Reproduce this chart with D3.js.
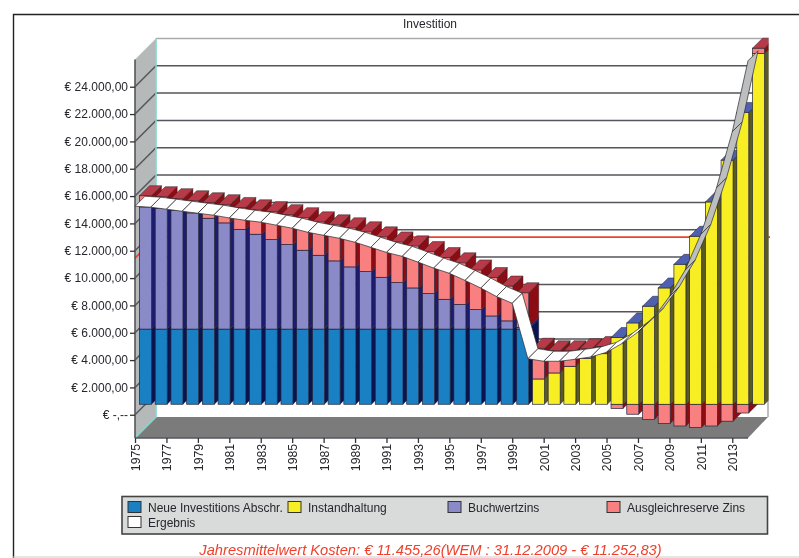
<!DOCTYPE html>
<html>
<head>
<meta charset="utf-8">
<script src="https://d3js.org/d3.v7.min.js"></script>
<style>
    html, body { margin: 0; padding: 0; background: #fff; }
    svg { display: block; filter: blur(0.55px); }
    text { font-family: "Liberation Sans", Arial, sans-serif; fill: #26262c; }
</style>
</head>
<body>
<div id="chart"></div>
<script>
// values
const years = d3.range(1975, 2015).map(String);
const yearTicks = years.filter((d, i) => i % 2 === 0);

const investVals = [5500,5500,5500,5500,5500,5500,5500,5500,5500,5500,5500,5500,5500,5500,5500,5500,5500,5500,5500,5500,5500,5500,5500,5500,5500,
    0,0,0,0,0,0,0,0,0,0,0,0,0,0,0];
const repairVals = [0,0,0,0,0,0,0,0,0,0,0,0,0,0,0,0,0,0,0,0,0,0,0,0,0,
    1850,2290,2780,3340,3700,4880,5950,7170,8510,10240,12290,14800,17860,21350,25660];
const bookVals = [8940,8840,8700,8500,8110,7770,7300,6940,6550,6190,5770,5400,4990,4550,4210,3790,3400,3010,2600,2180,1800,1430,960,600,130,
    0,0,0,0,0,0,0,0,0,0,0,0,0,0,0];
const reserveVals = [820,845,840,890,1135,1330,1600,1790,2040,2180,2380,2450,2640,2860,2910,2960,2980,3080,3070,3050,3050,2900,2810,2550,2530,
    2250,1625,1135,720,530,-310,-730,-1120,-1410,-1590,-1700,-1590,-1240,-640,390];
const resultVals = [15258,15185,15040,14890,14745,14600,14400,14230,14090,13870,13650,13350,13130,12910,12620,12250,11880,11590,11170,10730,10350,9830,9270,8650,8160,
    4100,3915,3915,4060,4230,4570,5220,6050,7100,8650,10590,13210,16620,20710,25900];

const avgCost = 11455.26;
const yTicks = [0,2000,4000,6000,8000,10000,12000,14000,16000,18000,20000,22000,24000];
const yTickLabels = ["€ -,--","€ 2.000,00","€ 4.000,00","€ 6.000,00","€ 8.000,00","€ 10.000,00","€ 12.000,00","€ 14.000,00","€ 16.000,00","€ 18.000,00","€ 20.000,00","€ 22.000,00","€ 24.000,00"];

const seriesNames = ["Neue Investitions Abschr.","Instandhaltung","Buchwertzins","Ausgleichreserve Zins","Ergebnis"];
const seriesColors = ["#1a80c4","#f8ee24","#8a8ac8","#f88080","#ffffff"];
const sideColors = ["#0a1450","#5a5a22","#1c1c70","#8c0c14"];
const topColors = ["#0a1450","#8a8420","#5060b0","#b83a48"];

const width = 799, height = 558;

// fake 3D: the wall sits wallDepth behind the axes, bars start halfway in
const wallDepth = 21, barShift = 10.5, barDepth = 10, barWidth = 12;

const svg = d3.select("#chart").append("svg")
    .attr("width", width)
    .attr("height", height);

const x = d3.scalePoint().domain(years).range([135, 748]);
const y = d3.scaleLinear().domain([-1700, 26000]).range([438, 59.4]);

const poly = pts => pts.map(p => p.join(",")).join(" ");

// last bars stop at the back wall's right edge
svg.append("clipPath")
    .attr("id", "plot-clip")
    .append("rect")
    .attr("x", 0).attr("y", 0)
    .attr("width", 768.5).attr("height", height);

// outer frame
svg.append("path")
    .attr("d", "M13.5,558V14.5H799")
    .attr("fill", "none")
    .attr("stroke", "#222")
    .attr("stroke-width", 1.4);
svg.append("line")
    .attr("x1", 13).attr("x2", 799).attr("y1", 557).attr("y2", 557)
    .attr("stroke", "#ccc");

svg.append("text")
    .attr("x", 430).attr("y", 28)
    .attr("text-anchor", "middle")
    .attr("font-size", 12)
    .text("Investition");

// walls and floor
const x0 = x.range()[0], x1 = x.range()[1];
const yTop = y.range()[1], yBot = y.range()[0];

svg.append("polygon")
    .attr("points", poly([[x0, yTop], [x0 + wallDepth, yTop - wallDepth], [x0 + wallDepth, yBot - wallDepth], [x0, yBot]]))
    .attr("fill", "#b6b9b9");
svg.append("polygon")
    .attr("points", poly([[x0, yBot], [x0 + wallDepth, yBot - wallDepth], [x1 + wallDepth - 1, yBot - wallDepth], [x1, yBot]]))
    .attr("fill", "#7b7b7b");

// grid, runs over the side wall then along the back wall
svg.append("g").selectAll("path")
    .data(yTicks)
    .join("path")
    .attr("d", d => "M" + x0 + "," + y(d) + "L" + (x0 + wallDepth) + "," + (y(d) - wallDepth) + "H" + (x1 + 20))
    .attr("fill", "none")
    .attr("stroke", "#55555c")
    .attr("stroke-width", 1.5);

svg.append("path")
    .attr("d", "M" + (x0 + wallDepth) + "," + (yTop - wallDepth) + "H" + (x1 + 20) + "V" + (yBot - wallDepth))
    .attr("fill", "none")
    .attr("stroke", "#aaa")
    .attr("stroke-width", 1.5);

// average line
svg.append("path")
    .attr("d", "M" + x0 + "," + y(avgCost) + "L" + (x0 + wallDepth) + "," + (y(avgCost) - wallDepth) + "H" + (x1 + 22))
    .attr("fill", "none")
    .attr("stroke", "#f0402c")
    .attr("stroke-width", 1.8);

svg.append("path")
    .attr("d", "M" + x0 + "," + yBot + "L" + (x0 + wallDepth) + "," + (yBot - wallDepth) + "V" + (yTop - wallDepth))
    .attr("fill", "none")
    .attr("stroke", "#7fd8d0")
    .attr("stroke-width", 1.6);

svg.append("path")
    .attr("d", "M" + x0 + "," + yBot + "V" + yTop)
    .attr("fill", "none")
    .attr("stroke", "#55555c")
    .attr("stroke-width", 1.6);
svg.append("path")
    .attr("d", "M" + x0 + "," + yBot + "H" + x1)
    .attr("fill", "none")
    .attr("stroke", "#55555c")
    .attr("stroke-width", 1.4);

// axes
const yAxis = d3.axisLeft(y)
    .tickValues(yTicks)
    .tickSize(5)
    .tickFormat((d, i) => yTickLabels[i]);
const yAxisG = svg.append("g")
    .attr("transform", "translate(" + x0 + ",0)")
    .call(yAxis);
yAxisG.select(".domain").remove();
yAxisG.selectAll("line").attr("stroke", "#333").attr("stroke-width", 1.3);
yAxisG.selectAll("text")
    .attr("x", -7)
    .attr("font-size", 12)
    .attr("font-family", "Liberation Sans");

const xAxis = d3.axisBottom(x)
    .tickValues(yearTicks)
    .tickSize(5);
const xAxisG = svg.append("g")
    .attr("transform", "translate(0," + yBot + ")")
    .call(xAxis);
xAxisG.select(".domain").remove();
xAxisG.selectAll("line").attr("stroke", "#333").attr("stroke-width", 1.3);
xAxisG.selectAll("text")
    .attr("font-size", 12.2)
    .attr("font-family", "Liberation Sans")
    .attr("text-anchor", "end")
    .attr("transform", "rotate(-90)")
    .attr("x", -6)
    .attr("y", 0)
    .attr("dx", 0)
    .attr("dy", "0.36em");

// one box of a stacked bar: side, front, optional top
function drawBox(g, year, from, to, color, side, top) {
    const left = x(year) + barShift - barWidth / 2;
    const right = left + barWidth;
    const yFrom = y(from) - barShift;
    const yTo = y(to) - barShift;
    g.append("polygon")
        .attr("points", poly([[right, yFrom], [right + barDepth, yFrom - barDepth], [right + barDepth, yTo - barDepth], [right, yTo]]))
        .attr("fill", side)
        .attr("stroke", "#222")
        .attr("stroke-width", 0.4);
    g.append("rect")
        .attr("x", left)
        .attr("y", Math.min(yFrom, yTo))
        .attr("width", barWidth)
        .attr("height", Math.abs(yFrom - yTo))
        .attr("fill", color)
        .attr("stroke", "#23233a")
        .attr("stroke-width", 0.7);
    if (top) {
        g.append("polygon")
            .attr("points", poly([[left, yTo], [left + barDepth, yTo - barDepth], [right + barDepth, yTo - barDepth], [right, yTo]]))
            .attr("fill", top)
            .attr("stroke", "#222")
            .attr("stroke-width", 0.5);
    }
}

const bars = svg.append("g")
    .attr("class", "bars")
    .attr("clip-path", "url(#plot-clip)");
years.forEach((year, i) => {
    const g = bars.append("g");
    const parts = [investVals[i], repairVals[i], bookVals[i], Math.max(reserveVals[i], 0)];
    if (reserveVals[i] < 0) {
        drawBox(g, year, 0, reserveVals[i], seriesColors[3], sideColors[3], null);
    }
    let sum = 0;
    const last = parts[3] > 0 ? 3 : 2;
    parts.forEach((v, k) => {
        if (v <= 0 && k !== last) return;
        drawBox(g, year, sum, sum + v, seriesColors[k], sideColors[k], k === last ? topColors[k] : null);
        sum += v;
    });
});

// Ergebnis ribbon, in front of the bars; turns grey where we see its underside
const ribbon = svg.append("g").attr("class", "ribbon");
years.slice(0, -1).forEach((year, i) => {
    const ax = x(year), ay = y(resultVals[i]);
    const bx = x(years[i + 1]), by = y(resultVals[i + 1]);
    const steep = (ay - by) > 0.8 * (bx - ax);
    ribbon.append("polygon")
        .attr("points", poly([[ax, ay], [ax + barDepth, ay - barDepth], [bx + barDepth, by - barDepth], [bx, by]]))
        .attr("fill", steep ? "#bcbec0" : seriesColors[4])
        .attr("stroke", "#2a2a2a")
        .attr("stroke-width", 0.7);
});

// legend
const legendRows = [
    {name: seriesNames[0], color: seriesColors[0], sx: 128, ty: 507},
    {name: seriesNames[1], color: seriesColors[1], sx: 288, ty: 507},
    {name: seriesNames[2], color: seriesColors[2], sx: 448, ty: 507},
    {name: seriesNames[3], color: seriesColors[3], sx: 607, ty: 507},
    {name: seriesNames[4], color: seriesColors[4], sx: 128, ty: 522}
];
const legend = svg.append("g").attr("class", "legend");
legend.append("rect")
    .attr("x", 122).attr("y", 496.5)
    .attr("width", 645.5).attr("height", 37.5)
    .attr("fill", "#d9dada")
    .attr("stroke", "#444")
    .attr("stroke-width", 1.6);
legend.selectAll("rect.key")
    .data(legendRows)
    .join("rect")
    .attr("class", "key")
    .attr("x", d => d.sx)
    .attr("y", d => d.ty - 5.5)
    .attr("width", 13)
    .attr("height", 11)
    .attr("fill", d => d.color)
    .attr("stroke", "#333")
    .attr("stroke-width", 1);
legend.selectAll("text")
    .data(legendRows)
    .join("text")
    .attr("x", d => d.sx + 20)
    .attr("y", d => d.ty + 4.5)
    .attr("font-size", 12)
    .text(d => d.name);

svg.append("text")
    .attr("x", 430.5).attr("y", 554.5)
    .attr("text-anchor", "middle")
    .attr("font-size", 14.7)
    .attr("font-style", "italic")
    .style("fill", "#f0402c")
    .text("Jahresmittelwert Kosten: € 11.455,26(WEM : 31.12.2009 - € 11.252,83)");
</script>
</body>
</html>
